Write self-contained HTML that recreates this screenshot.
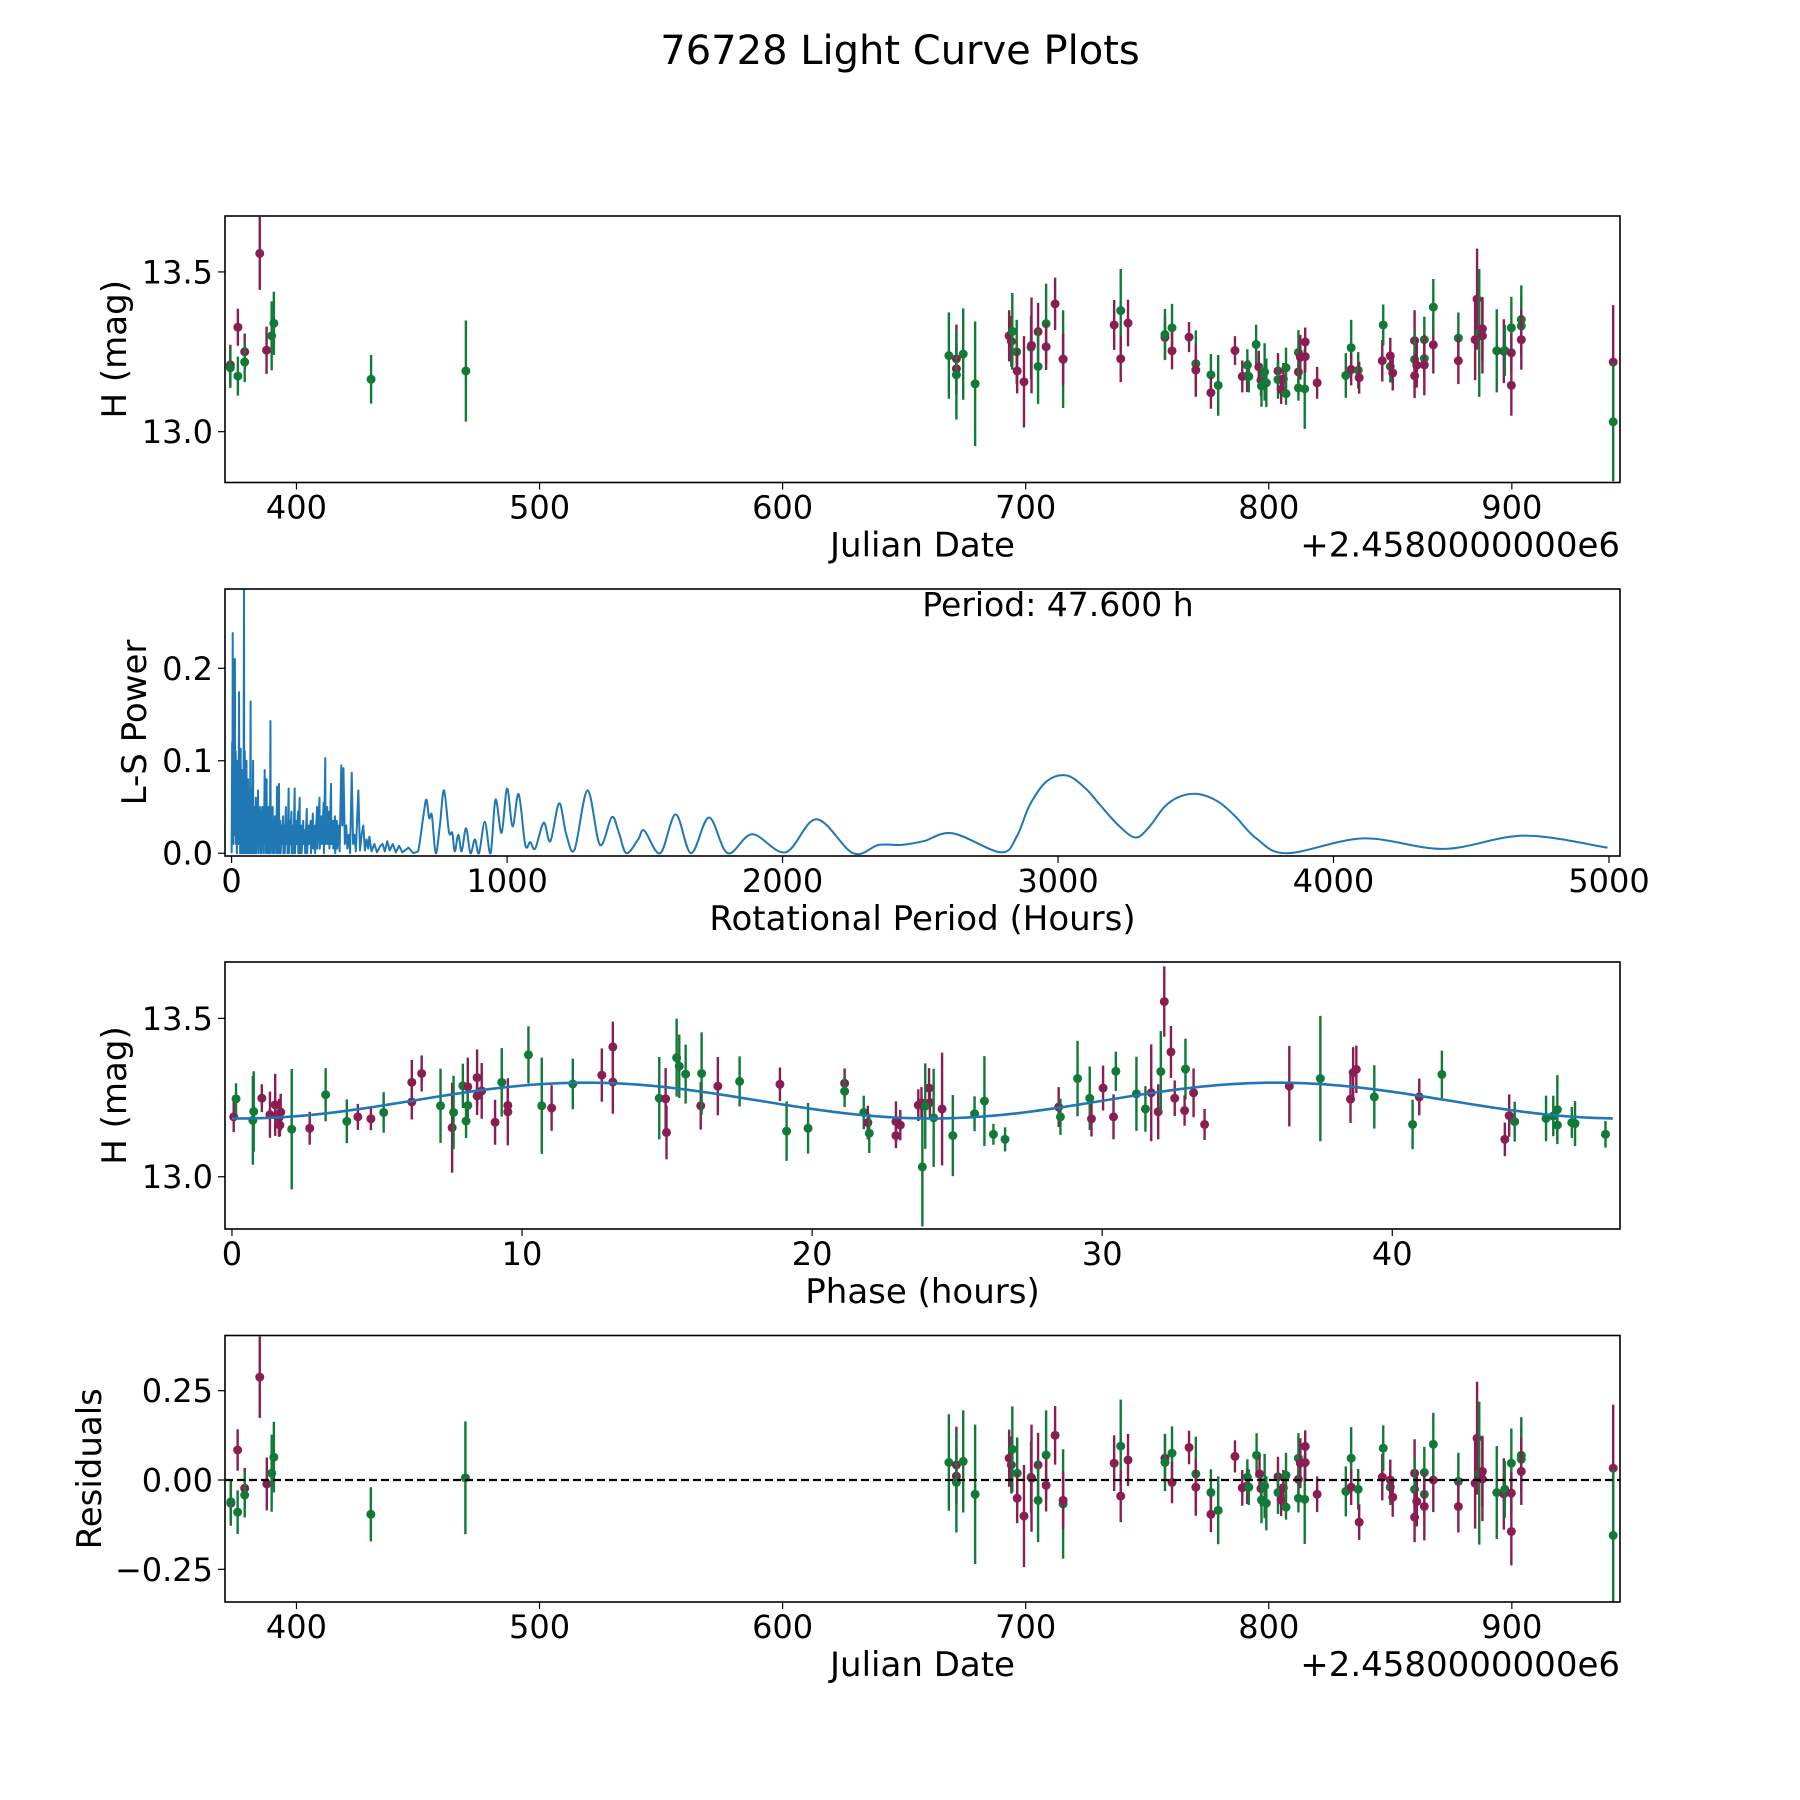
<!DOCTYPE html>
<html><head><meta charset="utf-8"><title>76728 Light Curve Plots</title>
<style>
html,body{margin:0;padding:0;background:#fff;}
svg{display:block;font-family:"DejaVu Sans","Liberation Sans",sans-serif;}
</style></head>
<body>
<svg id="fig" width="1800" height="1800" viewBox="0 0 1800 1800" xmlns="http://www.w3.org/2000/svg">
<rect width="1800" height="1800" fill="#fff"/>
<text x="900" y="64" font-size="40" text-anchor="middle">76728 Light Curve Plots</text>
</svg>
<script>
// ---------- Panel 1: light curve ----------
const lcJD  = [372.8,372.8,375.9,375.9,378.7,378.7,384.9,387.7,389.8,390.7,430.7,469.7,
668.4,671.5,671.5,671.5,674.3,679.2,693.2,694.1,694.5,696.3,696.5,699.3,702.2,702.4,705.1,705.1,708.4,708.4,712.1,715.4,715.4,
736.4,739.1,739.1,742.1,757.3,757.3,760.2,760.2,767.2,770.0,770.0,776.2,776.2,779.2,786.1,789.1,791.1,791.2,791.8,794.8,795.9,796.8,797.0,798.3,799.0,
803.8,803.8,805.1,806.0,807.1,807.1,812.2,812.2,813.0,812.2,814.8,815.0,815.0,819.9,831.7,833.9,833.9,836.8,837.2,846.7,847.1,850.0,850.0,851.0,
860.0,860.0,860.0,860.9,864.0,864.0,864.0,867.7,867.7,878.0,878.0,884.9,885.7,886.6,887.9,887.9,893.8,896.7,897.1,899.8,899.8,899.8,903.9,903.9,903.9,941.7,941.7];
const lcMag = [13.209,13.200,13.327,13.174,13.250,13.218,13.558,13.255,13.300,13.339,13.164,13.190,
13.238,13.228,13.197,13.178,13.243,13.150,13.300,13.283,13.314,13.250,13.190,13.156,13.264,13.270,13.313,13.204,13.338,13.266,13.400,13.227,13.227,
13.334,13.379,13.228,13.340,13.295,13.304,13.325,13.253,13.296,13.213,13.193,13.178,13.122,13.145,13.254,13.173,13.174,13.208,13.173,13.273,13.203,13.161,13.143,13.187,13.153,
13.190,13.163,13.132,13.165,13.200,13.119,13.187,13.248,13.233,13.137,13.134,13.281,13.235,13.153,13.176,13.263,13.195,13.192,13.169,13.222,13.334,13.204,13.237,13.184,
13.285,13.226,13.175,13.208,13.288,13.229,13.209,13.272,13.390,13.293,13.222,13.288,13.415,13.309,13.300,13.322,13.253,13.252,13.254,13.325,13.247,13.145,13.351,13.331,13.288,13.218,13.031];
const lcErr = [0.063,0.063,0.058,0.061,0.057,0.063,0.114,0.074,0.108,0.099,0.076,0.158,
0.135,0.107,0.08,0.14,0.143,0.195,0.08,0.08,0.12,0.1,0.07,0.143,0.1,0.15,0.09,0.117,0.125,0.073,0.082,0.153,0.08,
0.078,0.13,0.073,0.073,0.068,0.08,0.075,0.058,0.047,0.104,0.08,0.065,0.05,0.095,0.045,0.05,0.05,0.05,0.05,0.062,0.05,0.05,0.065,0.09,0.076,
0.056,0.06,0.045,0.05,0.063,0.035,0.05,0.07,0.07,0.04,0.125,0.045,0.05,0.05,0.07,0.087,0.05,0.057,0.05,0.065,0.064,0.05,0.057,0.055,
0.095,0.088,0.07,0.07,0.072,0.06,0.095,0.09,0.088,0.08,0.073,0.127,0.158,0.2,0.118,0.1,0.13,0.1,0.08,0.097,0.06,0.095,0.107,0.09,0.094,0.178,0.186];
const lcCol = "mgmgmgmmgggg"+"gmmgggmmggmmgmmggmmgm"+"mgmmmggmmgmgmgmmmgggmmggg"+"mgmmggmgmggmmmggmgmmggmm"+"mgmmggmmggmmmgmmgmggmmggmmg";

// ---------- Panel 2: Lomb-Scargle periodogram ----------
const lsPeriod = [0,2,3,4,5,6,7,8,9,11,12,13,15,16,18,19,21,22,24,25,27,28,30,31,33,34,36,37,39,40,42,43,45,46,48,49,51,52,54,55,57,58,60,61,63,64,66,67,69,70,72,73,75,76,78,79,81,82,84,85,88,89,92,93,96,97,100,101,104,105,108,109,112,113,116,117,120,121,124,125,127,128,131,132,134,135,138,139,141,142,145,146,149,150,153,154,157,158,161,162,165,166,169,170,172,173,177,178,182,183,187,188,192,193,197,198,202,203,207,208,212,213,217,218,223,224,229,230,235,236,241,242,247,248,253,254,260,261,266,267,273,274,280,281,287,288,295,296,302,303,310,311,319,320,327,328,334,335,340,341,347,348,354,355,361,362,368,369,375,376,382,383,389,392,398,402,406,411,416,420,425,430,436,441,446,451,460,466,472,478,484,490,496,500,508,518,528,540,548,556,565,574,585,596,608,620,642,660,677,
696,707,717,727,741,756,771,789,801,810,823,835,851,867,883,898,919,940,958,980,1000,1020,1042,1066,1084,1102,1133,1157,1189,1215,1245,1292,1337,1380,1405,1433,1476,1498,1556,1612,1668,1733,1801,1890,2011,2123,2256,2349,2431,2512,2617,2792,2850,2897,2960,3032,3100,3153,3220,3281,3330,3386,3440,3508,3580,3643,3720,3831,4109,4400,4692,4995];
const lsPower = [0,0.12,0.02,0.238,0.05,0.21,0.01,0.15,0.03,0.12,0.21,0.02,0.11,0.01,0.09,0,0.1,0.02,0.08,0.01,0.174,0.02,0.1,0,0.113,0.01,0.07,0,0.09,0.01,0.06,0,0.3,0,0.11,0.01,0.07,0,0.1,0.01,0.06,0,0.08,0.02,0.05,0,0.06,0.01,0.164,0,0.05,0.01,0.07,0,0.1,0,0.05,0.01,0.04,0,0.06,0,0.05,0.01,0.068,0,0.04,0.01,0.05,0,0.045,0,0.05,0.01,0.035,0,0.09,0.01,0.04,0,0.08,0,0.045,0.01,0.05,0,0.04,0,0.143,0,0.03,0.01,0.05,0,0.035,0,0.04,0.01,0.03,0,0.072,0,0.04,0.01,0.075,0,0.035,0,0.03,0.01,0.04,0,0.03,0,0.05,0.01,0.03,0,0.07,0,0.035,0.01,0.045,0,0.03,0,0.07,0,0.035,0.01,0.045,0,0.06,0,0.03,0,0.035,0.01,0.025,0,0.048,0,0.03,0.01,0.035,0,0.043,0.005,0.03,0,0.05,0.005,0.06,0.005,0.04,0.01,0.055,0,0.103,0.01,0.05,0.01,0.045,0.005,0.075,0.01,0.035,0.005,0.04,0,0.035,0.005,0.03,0.002,0.095,0.03,0.092,0.01,0.03,0.005,0.02,0,0.087,0.01,0.02,0.002,0.068,0.003,0.02,0.03,0.003,0.015,0.005,0.018,0.002,0.01,0.001,0.008,0.01,0.002,0.013,0.003,0.01,0.001,0.008,0.001,0.006,0,0.002,
0.04,0.058,0.038,0.041,0,0.03,0.068,0.023,0.022,0.002,0.02,0.002,0.027,0,0.015,0,0.034,0,0.058,0.022,0.07,0.029,0.064,0.009,0.012,0.005,0.033,0.013,0.054,0.02,0.004,0.068,0.009,0.039,0.023,0,0.015,0.0245,0,0.042,0,0.0386,0,0.0205,0.001,0.0368,0,0.009,0.009,0.013,0.0216,0.001,0.018,0.052,0.078,0.084,0.07,0.052,0.03,0.017,0.028,0.05,0.061,0.064,0.056,0.04,0.016,0,0.016,0.0047,0.019,0.006];
const lsSmoothFrom = 677;
const bestPeriodLabel = "Period: 47.600 h";

// ---------- Panel 3: phased light curve ----------
const phHours = [0.06,0.14,0.72,0.75,1.03,1.31,1.49,1.62,1.68,1.65,2.06,2.68,3.23,3.96,4.34,4.79,5.23,6.2,6.2,6.54,7.19,7.59,7.64,7.96,8.07,8.13,8.13,8.45,8.45,8.61,9.07,9.3,9.51,9.51,10.22,10.68,11.02,11.75,12.75,13.13,13.13,14.73,14.95,14.98,15.33,15.42,15.64,16.16,16.19,16.75,17.5,18.89,19.12,19.86,21.12,21.12,21.78,21.92,21.97,22.89,22.89,23.04,23.66,
23.8,23.77,24.03,24.06,23.9,24.19,24.48,24.85,25.6,25.94,26.25,26.65,28.5,28.56,29.15,29.57,29.63,30.03,30.39,30.47,31.18,31.49,31.69,31.93,32.02,32.14,32.37,32.5,32.87,32.84,33.15,33.53,36.45,37.52,38.56,38.65,38.76,39.38,40.7,40.93,41.71,43.88,44.03,44.22,45.3,45.55,45.69,45.69,46.19,46.3,47.35];
const phMag = [13.189,13.246,13.178,13.206,13.248,13.196,13.227,13.186,13.204,13.163,13.15,13.153,13.259,13.175,13.189,13.183,13.203,13.298,13.236,13.326,13.224,13.155,13.203,13.287,13.176,13.284,13.225,13.313,13.255,13.271,13.172,13.298,13.225,13.205,13.385,13.224,13.217,13.293,13.321,13.41,13.299,13.248,13.246,13.14,13.376,13.349,13.324,13.224,13.326,13.286,13.301,13.292,13.144,13.153,13.295,13.27,13.203,13.171,13.137,13.174,13.13,13.163,13.226,
13.031,13.233,13.28,13.234,13.223,13.186,13.214,13.13,13.199,13.239,13.134,13.118,13.22,13.189,13.31,13.248,13.183,13.28,13.189,13.333,13.262,13.214,13.265,13.205,13.332,13.553,13.394,13.248,13.34,13.209,13.265,13.165,13.286,13.31,13.245,13.329,13.339,13.252,13.165,13.252,13.323,13.118,13.193,13.174,13.184,13.192,13.212,13.163,13.171,13.168,13.134];
const phErr = [0.048,0.049,0.14,0.127,0.044,0.073,0.098,0.06,0.058,0.035,0.19,0.052,0.084,0.069,0.041,0.036,0.064,0.071,0.055,0.057,0.117,0.142,0.116,0.07,0.054,0.092,0.05,0.089,0.06,0.088,0.071,0.108,0.05,0.106,0.09,0.152,0.072,0.08,0.084,0.08,0.1,0.13,0.097,0.085,0.123,0.1,0.093,0.075,0.13,0.092,0.079,0.053,0.094,0.08,0.047,0.05,0.053,0.053,0.062,0.064,0.04,0.048,0.05,
0.188,0.05,0.063,0.05,0.135,0.155,0.178,0.128,0.055,0.142,0.033,0.038,0.063,0.057,0.119,0.1,0.056,0.071,0.071,0.062,0.117,0.072,0.153,0.087,0.128,0.111,0.082,0.056,0.096,0.048,0.077,0.049,0.127,0.198,0.075,0.08,0.075,0.1,0.078,0.058,0.075,0.053,0.067,0.063,0.072,0.064,0.109,0.05,0.049,0.071,0.042];
const phCol = "mgggmmmmmm"+"gmggmmgmmm"+"gmgggmgmmm"+"mgmmggmgmm"+"mgmmgggmgm"+"gmggmggmgm"+"mmm"+
              "gmmmggmggg"+"ggmgggmmmg"+"ggmmgmmmgm"+"mmmgmmmggm"+"gmmgggggggg";
const fitParams = [13.2405, 0.0565, 23.8, 0.3]; // mean, amplitude, half-period (h), phase shift (h)
const fitSpan = [0, 47.6];

// ---------- Panel 4: residuals ----------
const resJD = [373.0,373.0,375.8,375.8,378.7,378.7,384.9,387.8,389.8,390.7,430.6,469.5,
668.4,671.5,671.5,671.5,674.3,679.2,693.2,694.1,694.5,696.5,696.5,699.3,702.2,702.4,705.1,705.1,708.4,708.4,712.1,715.4,715.4,
736.4,739.1,739.1,742.1,757.3,757.3,760.2,760.2,767.2,770.0,770.0,776.2,776.2,779.2,786.1,789.1,791.1,791.2,791.8,795.0,796.2,796.8,797.0,798.3,799.0,
803.8,803.8,805.1,806.0,807.1,807.1,812.2,812.2,813.0,812.2,814.8,815.0,815.0,819.9,831.7,833.9,833.9,836.8,837.2,846.7,847.1,850.0,850.0,851.0,
860.0,860.0,860.0,860.9,864.0,864.0,864.0,867.7,867.7,878.0,878.0,884.9,885.7,886.6,887.9,887.9,893.8,896.7,897.1,899.8,899.8,899.8,903.9,903.9,903.9,941.7,941.7];
const resVal = [-0.065,-0.061,0.084,-0.09,-0.023,-0.042,0.288,-0.011,0.019,0.064,-0.096,0.006,
0.049,0.042,0.011,-0.007,0.052,-0.04,0.061,0.042,0.086,0.019,-0.051,-0.101,0.008,0.005,0.042,-0.057,0.07,-0.015,0.125,-0.067,-0.057,
0.047,0.095,-0.045,0.056,0.061,0.049,0.075,-0.007,0.091,0.017,-0.02,-0.035,-0.096,-0.085,0.066,-0.022,-0.017,0.008,-0.02,0.069,0.017,-0.024,-0.056,-0.017,-0.065,
0.009,-0.035,-0.056,-0.022,0.013,-0.076,0.002,0.061,0.047,-0.051,-0.054,0.094,0.049,-0.04,-0.032,0.061,-0.02,-0.026,-0.118,0.008,0.089,-0.02,0,-0.048,
0.019,-0.026,-0.104,-0.06,0.021,-0.04,-0.074,0,0.1,-0.004,-0.074,-0.009,0.117,0.019,0.003,0.024,-0.035,-0.039,-0.026,0.047,-0.037,-0.144,0.069,0.058,0.024,0.033,-0.155];
const resErr = lcErr;
const resCol = lcCol;

// ---------- colours ----------
const COLS = {g:"#117a37", m:"#8a1d52"};
const SVGNS = "http://www.w3.org/2000/svg";
const fig = document.getElementById('fig');

function el(tag, attrs, parent){
  const e = document.createElementNS(SVGNS, tag);
  for (const k in attrs) e.setAttribute(k, attrs[k]);
  (parent||fig).appendChild(e);
  return e;
}
function linScale(d0,d1,r0,r1){ return v => r0 + (v-d0)/(d1-d0)*(r1-r0); }

function makeAxes(cfg){
  const g = el('g',{});
  
  
  const sx = linScale(cfg.xlim[0],cfg.xlim[1],cfg.x0,cfg.x1);
  const sy = linScale(cfg.ylim[0],cfg.ylim[1],cfg.y1,cfg.y0);
  const cid = 'clip-'+cfg.name;
  const cp = el('clipPath',{id:cid},g);
  el('rect',{x:cfg.x0,y:cfg.y0,width:cfg.x1-cfg.x0,height:cfg.y1-cfg.y0},cp);
  const plot = el('g',{'clip-path':'url(#'+cid+')'},g);
  
  
  cfg.xticks.forEach((t,i)=>{
    const x = sx(t);
    el('line',{x1:x,x2:x,y1:cfg.y1,y2:cfg.y1+7,stroke:'#000','stroke-width':1.2},g);
    const tx = el('text',{x:x,y:cfg.y1+36,'font-size':32,'text-anchor':'middle'},g);
    tx.textContent = cfg.xlabels[i];
    
    
  });
  cfg.yticks.forEach((t,i)=>{
    const y = sy(t);
    el('line',{x1:cfg.x0-7,x2:cfg.x0,y1:y,y2:y,stroke:'#000','stroke-width':1.2},g);
    const ty = el('text',{x:cfg.x0-12,y:y+11.5,'font-size':32,'text-anchor':'end'},g);
    ty.textContent = cfg.ylabels[i];
    
    
  });
  const xl = el('text',{x:(cfg.x0+cfg.x1)/2,y:cfg.y1+74,'font-size':34,'text-anchor':'middle'},g);
  xl.textContent = cfg.xtitle;
  
  
  const ym = (cfg.y0+cfg.y1)/2;
  const yl = el('text',{x:cfg.ytx,y:ym,'font-size':34,'text-anchor':'middle',transform:'rotate(-90 '+cfg.ytx+' '+ym+')'},g);
  yl.textContent = cfg.ytitle;
  
  
  if (cfg.offset){
    const ot = el('text',{x:cfg.x1,y:cfg.y1+74,'font-size':34,'text-anchor':'end'},g);
    ot.textContent = cfg.offset;
    
    
  }
  return {g,plot,sx,sy,cfg};
}
function frame(ax){
  const c = ax.cfg;
  const r = el('rect',{x:c.x0,y:c.y0,width:c.x1-c.x0,height:c.y1-c.y0,fill:'none',stroke:'#000','stroke-width':1.6},ax.g);
  
  
}
function errorPoints(ax, xs, ys, es, cols, name){
  const grp = el('g',{},ax.plot);
  
  
  for (let i=0;i<xs.length;i++){
    const c = COLS[cols[i]] || COLS.g;
    const x = ax.sx(xs[i]), y = ax.sy(ys[i]);
    const bar = el('line',{x1:x,x2:x,y1:ax.sy(ys[i]-es[i]),y2:ax.sy(ys[i]+es[i]),stroke:c,'stroke-width':2.4},grp);
    
    
    const dot = el('circle',{cx:x,cy:y,r:4.5,fill:c},grp);
    
    
  }
}

const X0=225, X1=1620;
const ax1 = makeAxes({name:'light-curve-panel',x0:X0,x1:X1,y0:216,y1:482.5,xlim:[370.6,944.5],ylim:[12.841,13.675],
  xticks:[400,500,600,700,800,900],xlabels:['400','500','600','700','800','900'],
  yticks:[13.0,13.5],ylabels:['13.0','13.5'],xtitle:'Julian Date',ytitle:'H (mag)',ytx:126,offset:'+2.4580000000e6'});
errorPoints(ax1, lcJD, lcMag, lcErr, lcCol, 'light-curve-series');
frame(ax1);

const ax2 = makeAxes({name:'periodogram-panel',x0:X0,x1:X1,y0:589,y1:856,xlim:[-24,5040],ylim:[-0.003,0.2857],
  xticks:[0,1000,2000,3000,4000,5000],xlabels:['0','1000','2000','3000','4000','5000'],
  yticks:[0,0.1,0.2],ylabels:['0.0','0.1','0.2'],xtitle:'Rotational Period (Hours)',ytitle:'L-S Power',ytx:146});
(function(){
  let d = '';
  const pts = lsPeriod.map((p,i)=>[ax2.sx(p), ax2.sy(lsPower[i])]);
  let i=0;
  for (; i<pts.length && lsPeriod[i] <= lsSmoothFrom; i++){
    d += (i===0?'M':'L') + pts[i][0].toFixed(2)+','+pts[i][1].toFixed(2);
  }
  for (; i<pts.length; i++){
    const p0 = pts[Math.max(i-2,0)], p1 = pts[i-1], p2 = pts[i], p3 = pts[Math.min(i+1,pts.length-1)];
    const c1x = p1[0]+(p2[0]-p0[0])/6, c1y = p1[1]+(p2[1]-p0[1])/6;
    const c2x = p2[0]-(p3[0]-p1[0])/6, c2y = p2[1]-(p3[1]-p1[1])/6;
    d += 'C'+c1x.toFixed(2)+','+c1y.toFixed(2)+' '+c2x.toFixed(2)+','+c2y.toFixed(2)+' '+p2[0].toFixed(2)+','+p2[1].toFixed(2);
  }
  const path = el('path',{d:d,fill:'none',stroke:'#1f77b4','stroke-width':2,'stroke-linejoin':'round'},ax2.plot);
  
  
})();
frame(ax2);
const pt = el('text',{x:1058,y:616,'font-size':33,'text-anchor':'middle'},ax2.g);
pt.textContent = bestPeriodLabel;



const ax3 = makeAxes({name:'phase-fold-panel',x0:X0,x1:X1,y0:962,y1:1229,xlim:[-0.24,47.85],ylim:[12.835,13.678],
  xticks:[0,10,20,30,40],xlabels:['0','10','20','30','40'],
  yticks:[13.0,13.5],ylabels:['13.0','13.5'],xtitle:'Phase (hours)',ytitle:'H (mag)',ytx:126});
errorPoints(ax3, phHours, phMag, phErr, phCol, 'phased-series');
(function(){
  let d='';
  const n=300;
  for (let k=0;k<=n;k++){
    const t = fitSpan[0] + (fitSpan[1]-fitSpan[0])*k/n;
    const v = fitParams[0] - fitParams[1]*Math.cos(2*Math.PI*(t-fitParams[3])/fitParams[2]);
    d += (k?'L':'M')+ax3.sx(t).toFixed(2)+','+ax3.sy(v).toFixed(2);
  }
  const fit = el('path',{d:d,fill:'none',stroke:'#1f77b4','stroke-width':2.6},ax3.plot);
  
  
})();
frame(ax3);

const ax4 = makeAxes({name:'residuals-panel',x0:X0,x1:X1,y0:1335.5,y1:1602,xlim:[370.6,944.5],ylim:[-0.3415,0.4045],
  xticks:[400,500,600,700,800,900],xlabels:['400','500','600','700','800','900'],
  yticks:[-0.25,0,0.25],ylabels:['\u22120.25','0.00','0.25'],xtitle:'Julian Date',ytitle:'Residuals',ytx:101,offset:'+2.4580000000e6'});
errorPoints(ax4, resJD, resVal, resErr, resCol, 'residual-series');
const zl = el('line',{x1:X0,x2:X1,y1:ax4.sy(0),y2:ax4.sy(0),stroke:'#000','stroke-width':2.2,'stroke-dasharray':'8,4'},ax4.g);


frame(ax4);
</script>
</body></html>
